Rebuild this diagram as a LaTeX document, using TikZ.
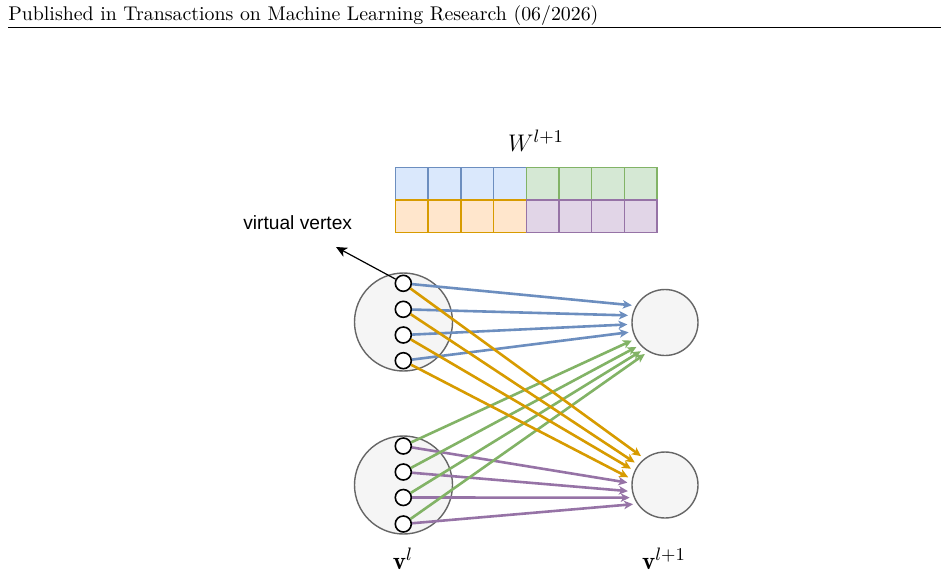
\documentclass[tikz,border=0pt]{standalone}
\usepackage{amsmath}
\usepackage{amssymb}
\usepackage{fontspec}
\usepackage{tikz}
\usetikzlibrary{arrows.meta}
\newfontfamily\labelfont{Liberation Sans}
\definecolor{blueline}{HTML}{6C8EBF}
\definecolor{bluefill}{HTML}{DAE8FC}
\definecolor{greenline}{HTML}{82B366}
\definecolor{greenfill}{HTML}{D5E8D4}
\definecolor{orangeline}{HTML}{D79B00}
\definecolor{orangefill}{HTML}{FFE6CC}
\definecolor{purpleline}{HTML}{9673A6}
\definecolor{purplefill}{HTML}{E1D5E7}
\definecolor{grayline}{HTML}{666666}
\definecolor{grayfill}{HTML}{F5F5F5}

\begin{document}
\begin{tikzpicture}[x=0.5pt, y=-0.5pt,
    group/.style={circle, draw=grayline, fill=grayfill, line width=0.7pt,
      minimum size=49pt, inner sep=0pt},
    target/.style={circle, draw=grayline, fill=grayfill, line width=0.7pt,
      minimum size=33pt, inner sep=0pt},
    vertex/.style={circle, draw=black, fill=white, line width=0.8pt,
      minimum size=8pt, inner sep=0pt},
    edge/.style={line width=1.3pt, shorten >=2pt,
      -{Stealth[length=4.5pt, width=4.2pt, inset=1.2pt]}},
    cell/.style={line width=0.75pt},
    layer/.style={font=\fontsize{12.5}{14}\selectfont, anchor=base}]
    \useasboundingbox (0,0) rectangle (948,580);
    % page header
    \node[anchor=base west, inner sep=0pt, font=\fontsize{9.92}{12}\selectfont] (header) at (8,20.5)
      {Published in Transactions on Machine Learning Research (06/2026)};
    \draw[line width=0.5pt] (8,27.5) -- (941,27.5);
    % weight matrix
    \node[font=\fontsize{13}{15}\selectfont, anchor=base] (wlabel) at (536,151.5) {$W^{l+1}$};
    \foreach \i in {0,...,3}{
      \draw[cell, draw=blueline, fill=bluefill] ({395.5+32.7*\i},167.3) rectangle ++(32.7,32.7);
    }
    \foreach \i in {0,...,3}{
      \draw[cell, draw=greenline, fill=greenfill] ({526.3+32.7*\i},167.3) rectangle ++(32.7,32.7);
    }
    \foreach \i in {0,...,3}{
      \draw[cell, draw=orangeline, fill=orangefill] ({395.5+32.7*\i},200) rectangle ++(32.7,32.7);
    }
    \foreach \i in {0,...,3}{
      \draw[cell, draw=purpleline, fill=purplefill] ({526.3+32.7*\i},200) rectangle ++(32.7,32.7);
    }
    % layer l and layer l+1
    \node[group] (gu) at (403.5,322) {};
    \node[group] (gl) at (403.5,485) {};
    \node[target] (tu) at (665,322.5) {};
    \node[target] (tl) at (665,485) {};
    \foreach \k/\y in {1/283.3, 2/309.3, 3/335, 4/360.7}{
      \node[vertex] (u\k) at (403.3,\y) {};
    }
    \foreach \k/\y in {1/446, 2/472, 3/497.5, 4/524}{
      \node[vertex] (d\k) at (403.3,\y) {};
    }
    \node[layer] (vl) at (403,569) {$\mathbf{v}^l$};
    \node[layer] (vn) at (664,569) {$\mathbf{v}^{l+1}$};
    % messages
    \foreach \k/\a in {1/150, 2/168, 3/183, 4/196}{
      \draw[edge, blueline] (u\k) -- (tu.\a);
    }
    \foreach \k/\a in {1/177, 2/191, 3/202, 4/214}{
      \draw[edge, purpleline] (d\k) -- (tl.\a);
    }
    \foreach \k/\a in {1/209, 2/222, 3/232, 4/240}{
      \draw[edge, greenline] (d\k) -- (tu.\a);
    }
    \foreach \k/\a in {1/128, 2/143, 3/155, 4/170}{
      \draw[edge, orangeline] (u\k) -- (tl.\a);
    }
    % virtual vertex
    \coordinate (vtip) at (336,247);
    \draw[line width=0.6pt, -{Stealth[length=5.5pt, width=5pt, inset=1.5pt]}] (u1) -- (vtip);
    \node[font=\labelfont\fontsize{9.6}{11}\selectfont, anchor=base] (vlabel) at (297.7,229.3) {virtual vertex};
  \end{tikzpicture}
\end{document}
